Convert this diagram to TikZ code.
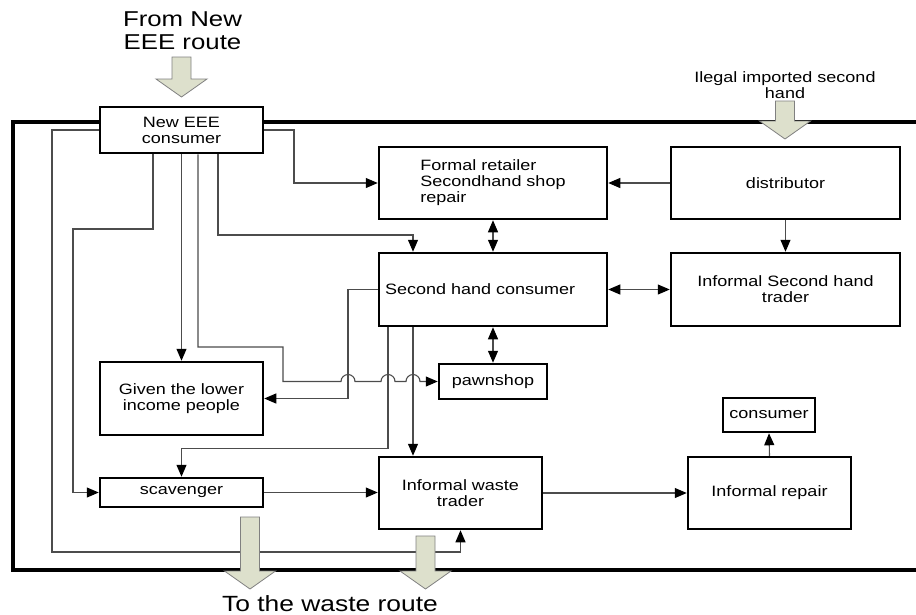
\documentclass[tikz,border=0pt]{standalone}
\usepackage{fontspec}
\setmainfont[FakeStretch=1.2]{Liberation Sans}
\usetikzlibrary{arrows.meta,calc}
\definecolor{sage}{RGB}{221,224,204}
\newcommand{\fatdown}[4]{\filldraw[fatarrow] ({#1-9.5},#2) -- ({#1+9.5},#2) -- ({#1+9.5},#3) -- ({#1+25.5},#3) -- (#1,#4) -- ({#1-25.5},#3) -- ({#1-9.5},#3) -- cycle;}
\begin{document}
\begin{tikzpicture}[x=1pt,y=-1pt,
 box/.style={draw=black, line width=2.5pt, fill=white, inner sep=0pt, align=center, font=\fontsize{15}{16}\selectfont},
 conn/.style={draw=black!70, line width=1.1pt, -{Triangle[length=12pt,width=10pt,color=black]}},
 dconn/.style={draw=black!70, line width=1.1pt, {Triangle[length=12pt,width=10pt,color=black]}-{Triangle[length=12pt,width=10pt,color=black]}},
 fatarrow/.style={fill=sage, draw=black!50, line width=0.8pt},
 lbl/.style={align=center, inner sep=0pt}]
\useasboundingbox (0,0) rectangle (916,614);
% frame
\draw[line width=4.3pt, line join=miter] (920,122) -- (13,122) -- (13,570) -- (920,570);
% nodes
\node[box, minimum width=163pt, minimum height=46pt] (nec) at (181.5,130) {New EEE\\consumer};
\node[box, align=left, minimum width=228pt, minimum height=72pt] (formal) at (493,183) {Formal retailer\\Secondhand shop\\repair};
\node[box, minimum width=229pt, minimum height=72pt] (dist) at (785.5,183) {distributor};
\node[box, align=left, text width=216pt, inner xsep=6pt, minimum height=73pt] (shc) at (493,289.5) {Second hand consumer};
\node[box, minimum width=229pt, minimum height=73pt] (ist) at (785.5,289.5) {Informal Second hand\\trader};
\node[box, minimum width=163pt, minimum height=73pt] (given) at (181.5,398.5) {Given the lower\\income people};
\node[box, minimum width=108pt, minimum height=35pt] (pawn) at (493,381.5) {pawnshop};
\node[box, minimum width=163pt, minimum height=29pt] (scav) at (181.5,492.5) {scavenger};
\node[box, minimum width=163pt, minimum height=72pt] (iwt) at (460.5,493) {Informal waste\\trader};
\node[box, minimum width=163pt, minimum height=72pt] (irep) at (769.5,493) {Informal repair};
\node[box, minimum width=92pt, minimum height=34pt] (cons) at (769,415) {consumer};
% connectors
\draw[conn] (nec.east) -| (294,183) -- (formal.west);
\draw[conn] ($(nec.south)+(36.5,0)$) |- (413,235) -- ($(shc.north)+(-80,0)$);
\draw[conn] (nec.south) -- (given.north);
\draw[conn] ($(nec.south)+(16.5,0)$) |- (283,347) -- (283,381.5) -- (341,381.5)
  arc[start angle=180,end angle=0,radius=7pt] -- (381,381.5)
  arc[start angle=180,end angle=0,radius=7pt] -- (406,381.5)
  arc[start angle=180,end angle=0,radius=7pt] -- (pawn.west);
\draw[conn] (shc.west) -| (348,398.5) -- (given.east);
\draw[conn] ($(shc.south)+(-105,0)$) |- ($(scav.north)+(0,-28)$) -- (scav.north);
\draw[conn] ($(shc.south)+(-80,0)$) -- ($(iwt.north)+(-47.5,0)$);
\draw[conn] ($(nec.south)+(-28.5,0)$) |- (73,229) |- (scav.west);
\draw[conn] (nec.west) -| (52,552) -| (iwt.south);
\draw[dconn] (formal.south) -- (shc.north);
\draw[dconn] (shc.south) -- (pawn.north);
\draw[conn] (dist.west) -- (formal.east);
\draw[conn] (dist.south) -- (ist.north);
\draw[dconn] (shc.east) -- (ist.west);
\draw[conn] (scav.east) -- (scav.east -| iwt.west);
\draw[conn] (iwt.east) -- (irep.west);
\draw[conn] (irep.north) -- (cons.south);
% block arrows
\fatdown{181.5}{57}{79}{97}
\fatdown{785}{101}{121}{139}
\fatdown{250}{517}{571}{589}
\fatdown{425.5}{536}{571}{589}
% labels
\node[lbl, font=\fontsize{21.5}{23}\selectfont] (src) at (182.5,31) {From New\\EEE route};
\node[lbl, font=\fontsize{15}{16}\selectfont] (ileg) at (785,85) {Ilegal imported second\\hand};
\node[lbl, font=\fontsize{22}{24}\selectfont, anchor=base] (dst) at (330,611) {To the waste route};
\end{tikzpicture}
\end{document}
